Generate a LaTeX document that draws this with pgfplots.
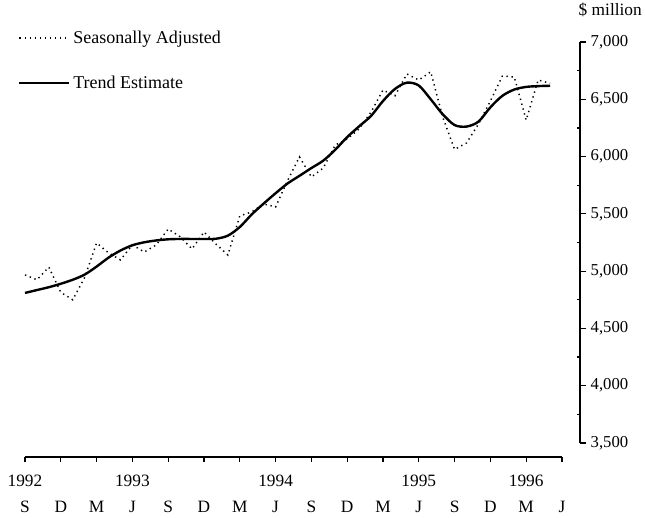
\documentclass[border=0pt]{standalone}
\usepackage{fontspec}
\setmainfont{Liberation Serif}
\usepackage{pgfplots}
\pgfplotsset{compat=1.18}
\pgfplotstableread{
m v
0 4967
1 4925
2 5035
3 4815
4 4750
5 4945
6 5246
7 5160
8 5098
9 5229
10 5167
11 5229
12 5368
13 5300
14 5194
15 5342
16 5237
17 5141
18 5482
19 5517
20 5586
21 5560
22 5790
23 5997
24 5822
25 5901
26 6101
27 6154
28 6241
29 6389
30 6581
31 6530
32 6721
33 6668
34 6740
35 6346
36 6062
37 6119
38 6284
39 6485
40 6703
41 6695
42 6319
43 6668
44 6640
}\sadj
\pgfplotstableread{
m v
0 4810
1 4835
2 4860
3 4890
4 4925
5 4970
6 5040
7 5118
8 5180
9 5226
10 5252
11 5268
12 5278
13 5281
14 5281
15 5281
16 5283
17 5310
18 5385
19 5495
20 5590
21 5680
22 5765
23 5832
24 5900
25 5965
26 6060
27 6170
28 6264
29 6355
30 6485
31 6590
32 6645
33 6620
34 6500
35 6370
36 6275
37 6262
38 6305
39 6430
40 6530
41 6585
42 6608
43 6615
44 6618
}\trend
\newcommand{\ny}{\vphantom{1992}}
\begin{document}
\begin{tikzpicture}
\path[use as bounding box] (-18.75pt,-45pt) rectangle (465pt,342.75pt);
\begin{axis}[
  name=main, at={(0pt,0pt)}, anchor=south west,
  scale only axis, width=402.75pt, height=311.25pt,
  xmin=0, xmax=45, ymin=3378, ymax=7000,
  axis x line*=bottom, axis y line=none,
  ytick=\empty,
  xtick={0,3,...,45},
  xticklabels={{1992\\S},{\ny\\D},{\ny\\M},{1993\\J},{\ny\\S},{\ny\\D},{\ny\\M},{1994\\J},{\ny\\S},{\ny\\D},{\ny\\M},{1995\\J},{\ny\\S},{\ny\\D},{1996\\M},{\ny\\J}},
  xticklabel style={align=center, font=\fontsize{13}{19}\selectfont, yshift=-6.5pt},
  tick align=outside, major tick length=3.75pt,
  axis line style={line width=0.9pt}, tick style={line width=0.9pt, black},
  clip=false,
  legend cell align=left,
  legend style={at={(axis description cs:-0.013,1.034)}, anchor=north west, draw=none, fill=none, font=\fontsize{13.5}{15}\selectfont, row sep=19pt, inner sep=0pt},
  legend image code/.code={\draw[#1] (0pt,0pt) -- (37.5pt,0pt);},
]
\addplot[black, line width=1.1pt, dash pattern=on 1pt off 2.8pt] table[x=m,y=v]{\sadj};
\addlegendentry{Seasonally Adjusted}
\addplot[black, line width=1.8pt, smooth, tension=0.5] table[x=m,y=v]{\trend};
\addlegendentry{Trend Estimate}
\end{axis}
\begin{axis}[
  at={(408.75pt,10.5pt)}, anchor=south west,
  scale only axis, width=7.5pt, height=300.75pt,
  xmin=0, xmax=1, ymin=3500, ymax=7000,
  axis y line*=right, axis x line=none, xtick=\empty,
  ytick={3500,4000,4500,5000,5500,6000,6500,7000},
  extra y ticks={3750,4250,4750,5250,5750,6250,6750},
  extra y tick style={tick align=inside, major tick length=2.5pt, yticklabel={}},
  tick align=outside, major tick length=4.5pt,
  axis line style={line width=0.9pt}, tick style={line width=0.9pt, black},
  scaled y ticks=false,
  yticklabel style={font=\fontsize{12.5}{14}\selectfont, /pgf/number format/1000 sep={,}, /pgf/number format/assume math mode=true},
  title={\$ million},
  title style={at={(rel axis cs:1,1)}, anchor=base west, xshift=-4.5pt, yshift=13.5pt, font=\fontsize{13}{15}\selectfont},
]
\end{axis}
\end{tikzpicture}
\end{document}
